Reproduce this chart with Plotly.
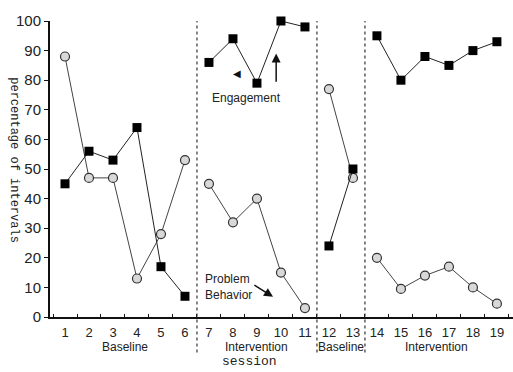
import plotly.graph_objects as go

sessions = list(range(1, 20))
engagement = [45, 56, 53, 64, 17, 7, 86, 94, 79, 100, 98, 24, 50, 95, 80, 88, 85, 90, 93]
problem = [88, 47, 47, 13, 28, 53, 45, 32, 40, 15, 3, 77, 47, 20, 9.5, 14, 17, 10, 4.5]
phases = [(1, 6), (7, 11), (12, 13), (14, 19)]
phase_names = ["Baseline", "Intervention", "Baseline", "Intervention"]
phase_breaks = [6.5, 11.5, 13.5]
y_ticks = list(range(0, 101, 10))


def with_gaps(values):
    xs, ys = [], []
    for a, b in phases:
        for s in range(a, b + 1):
            xs.append(s)
            ys.append(values[s - 1])
        xs.append(None)
        ys.append(None)
    return xs, ys


fig = go.Figure()
px_, py_ = with_gaps(problem)
fig.add_trace(go.Scatter(
    x=px_, y=py_, mode="lines+markers", cliponaxis=False,
    line=dict(color="#444", width=1),
    marker=dict(symbol="circle", size=9, color="#d8d8d8",
                line=dict(color="#333", width=1.2)),
    showlegend=False))
ex_, ey_ = with_gaps(engagement)
fig.add_trace(go.Scatter(
    x=ex_, y=ey_, mode="lines+markers", cliponaxis=False,
    line=dict(color="#222", width=1),
    marker=dict(symbol="square", size=9, color="black"),
    showlegend=False))

for b in phase_breaks:
    fig.add_shape(type="line", xref="x", yref="paper", x0=b, x1=b,
                  y0=-0.12, y1=1.0,
                  line=dict(color="#333", width=1.2, dash="dot"))

for (a, b), name in zip(phases, phase_names):
    fig.add_annotation(x=(a + b) / 2, xref="x", y=-0.1, yref="paper",
                       text=name, showarrow=False, yanchor="middle",
                       font=dict(family="Liberation Sans, Arial", size=12, color="#222"))

fig.add_annotation(x=0.43, xref="paper", y=-0.152, yref="paper", text="session",
                   showarrow=False, yanchor="middle",
                   font=dict(family="Liberation Mono, Courier New", size=13, color="#222"))
fig.add_annotation(x=-0.078, xref="paper", y=0.53, yref="paper", xanchor="center",
                   yanchor="middle",
                   text="percentage of intervals", textangle=90, showarrow=False,
                   font=dict(family="Liberation Mono, Courier New", size=12, color="#222"))

# Engagement label + arrows
fig.add_annotation(x=8.55, xref="x", y=74, yref="y", text="Engagement",
                   showarrow=False, font=dict(family="Liberation Sans, Arial", size=12, color="#222"))
fig.add_annotation(x=9.8, y=89, ax=9.8, ay=79, xref="x", yref="y", axref="x", ayref="y",
                   text="", showarrow=True, arrowhead=2, arrowsize=1.2, arrowwidth=1.5,
                   arrowcolor="#111")
fig.add_annotation(x=8.17, y=82.5, xref="x", yref="y", text="◀", showarrow=False,
                   font=dict(size=10, color="#111"))

# Problem behavior label + arrow
fig.add_annotation(x=6.75, y=10.1, xref="x", yref="y", xanchor="left",
                   text="Problem<br>Behavior", showarrow=False, align="left",
                   font=dict(family="Liberation Sans, Arial", size=12, color="#222"))
fig.add_annotation(x=9.67, y=6.8, ax=8.83, ay=11.1, xref="x", yref="y", axref="x", ayref="y",
                   text="", showarrow=True, arrowhead=2, arrowsize=1.2, arrowwidth=1.5,
                   arrowcolor="#111")

fig.update_xaxes(range=[0.375, 19.67], tickvals=sessions, ticktext=[str(s) for s in sessions],
                 showgrid=False, zeroline=False, showline=True, linecolor="#111", linewidth=2,
                 ticks="", ticklabelstandoff=2,
                 minor=dict(tick0=0.5, dtick=1, ticks="inside", ticklen=3, tickcolor="#111"),
                 tickfont=dict(family="Liberation Sans, Arial", size=13, color="#222"))
fig.update_yaxes(range=[0, 100], tickvals=y_ticks, showgrid=False, zeroline=False,
                 showline=True, linecolor="#111", linewidth=2, ticks="outside", ticklen=4,
                 tickcolor="#111",
                 tickfont=dict(family="Liberation Sans, Arial", size=15, color="#222"))
fig.update_layout(width=513, height=372, margin=dict(l=50, r=0, t=21, b=55),
                  plot_bgcolor="white", paper_bgcolor="white")
fig.write_html("out.html", config={"displayModeBar": False},
               post_script="document.body.style.margin='0';document.body.style.overflow='hidden';")
